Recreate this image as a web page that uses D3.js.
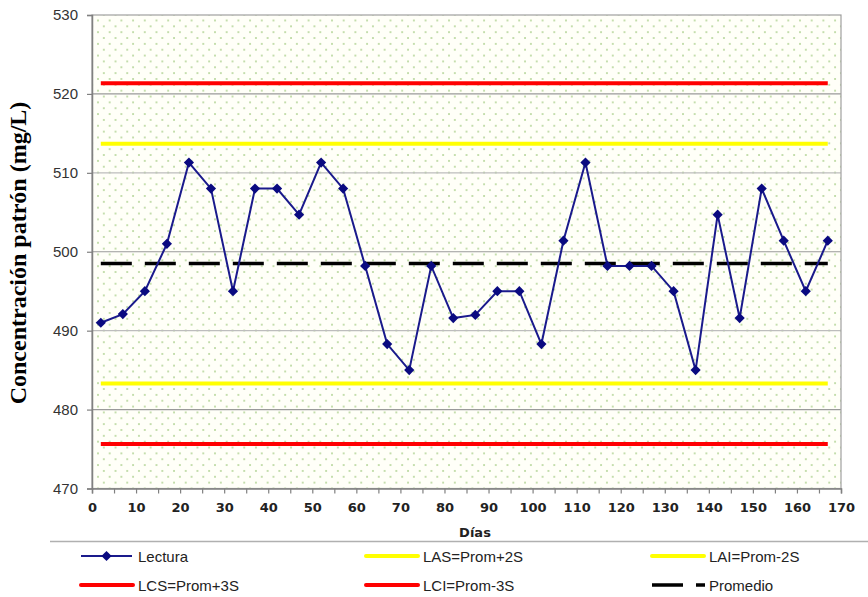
<!DOCTYPE html>
<html>
<head>
<meta charset="utf-8">
<script src="https://cdn.jsdelivr.net/npm/d3@7"></script>
<style>
  body { margin: 0; background: #fff; }
  svg { display: block; }
</style>
</head>
<body>
<svg width="868" height="597"></svg>
<script>
// días de lectura y valores leídos
const dias = [2, 7, 12, 17, 22, 27, 32, 37, 42, 47, 52, 57, 62, 67, 72, 77, 82,
    87, 92, 97, 102, 107, 112, 117, 122, 127, 132, 137, 142, 147, 152, 157, 162, 167];
const lectura = [491.0, 492.1, 495.0, 501.0, 511.3, 508.0, 495.0, 508.0, 508.0, 504.7,
    511.3, 508.0, 498.2, 488.3, 485.0, 498.2, 491.6, 492.0, 495.0, 495.0, 488.3, 501.4,
    511.3, 498.2, 498.2, 498.2, 495.0, 485.0, 504.7, 491.6, 508.0, 501.4, 495.0, 501.4];
const promedio = 498.5;
const limites = [
    { nombre: 'LCS', valor: 521.35, color: '#ff0000' },
    { nombre: 'LAS', valor: 513.7, color: '#ffff00' },
    { nombre: 'LAI', valor: 483.3, color: '#ffff00' },
    { nombre: 'LCI', valor: 475.65, color: '#ff0000' }
];
const yTicks = [470, 480, 490, 500, 510, 520, 530];
const xTicks = [0, 5, 10, 15, 20, 25, 30, 35, 40, 45, 50, 55, 60, 65, 70, 75, 80, 85,
    90, 95, 100, 105, 110, 115, 120, 125, 130, 135, 140, 145, 150, 155, 160, 165, 170];
const leyenda = [
    { texto: 'Lectura', tipo: 'lectura' },
    { texto: 'LAS=Prom+2S', tipo: 'amarillo' },
    { texto: 'LAI=Prom-2S', tipo: 'amarillo' },
    { texto: 'LCS=Prom+3S', tipo: 'rojo' },
    { texto: 'LCI=Prom-3S', tipo: 'rojo' },
    { texto: 'Promedio', tipo: 'promedio' }
];

const svg = d3.select('svg');
const x = d3.scaleLinear().domain([0, 170]).range([92, 841]);
const y = d3.scaleLinear().domain([470, 530]).range([488.5, 15]);

// fondo punteado
const pat = svg.append('defs').append('pattern')
    .attr('id', 'puntos')
    .attr('patternUnits', 'userSpaceOnUse')
    .attr('width', 11.7).attr('height', 11.7)
    .attr('x', 97).attr('y', 19.5);
pat.append('rect').attr('width', 11.7).attr('height', 11.7).attr('fill', '#fffff8');
pat.append('circle').attr('cx', 1).attr('cy', 1).attr('r', 0.9).attr('fill', '#a9cf8a');
pat.append('circle').attr('cx', 6.85).attr('cy', 6.85).attr('r', 0.9).attr('fill', '#a9cf8a');

svg.append('rect')
    .attr('x', x(0)).attr('y', y(530))
    .attr('width', x(170) - x(0)).attr('height', y(470) - y(530))
    .attr('fill', 'url(#puntos)');

// líneas de cuadrícula
svg.append('g')
    .selectAll('line')
    .data(yTicks.filter(d => d > 470 && d < 530))
    .join('line')
    .attr('x1', x(0)).attr('x2', x(170))
    .attr('y1', d => y(d)).attr('y2', d => y(d))
    .attr('stroke', d => d % 20 == 0 ? '#9a9a9a' : '#bdbdbd')
    .attr('stroke-width', 1.2);

// borde del área
svg.append('rect')
    .attr('x', x(0)).attr('y', y(530))
    .attr('width', x(170) - x(0)).attr('height', y(470) - y(530))
    .attr('fill', 'none').attr('stroke', '#a0a0a0').attr('stroke-width', 1.2);

// eje Y
const ejeY = svg.append('g')
    .attr('transform', `translate(${x(0)},0)`)
    .call(d3.axisLeft(y).tickValues(yTicks).tickSize(5).tickPadding(9));
ejeY.select('.domain').attr('stroke', '#808080').attr('stroke-width', 1.5);
ejeY.selectAll('.tick line').attr('stroke', '#808080').attr('stroke-width', 1.2);
ejeY.selectAll('text')
    .attr('font-family', 'Liberation Sans, Arial, sans-serif')
    .attr('font-size', 15).attr('fill', '#333');

// eje X
const ejeX = svg.append('g')
    .attr('transform', `translate(0,${y(470)})`)
    .call(d3.axisBottom(x).tickValues(xTicks).tickSize(5).tickPadding(9)
        .tickFormat(d => d % 10 == 0 ? d : ''));
ejeX.select('.domain').attr('stroke', '#808080').attr('stroke-width', 1.5);
ejeX.selectAll('.tick line').attr('stroke', '#808080').attr('stroke-width', 1.2);
ejeX.selectAll('text')
    .attr('font-family', 'DejaVu Sans, Verdana, sans-serif')
    .attr('font-size', 13).attr('font-weight', 'bold').attr('fill', '#222');

// límites
svg.append('g')
    .selectAll('line')
    .data(limites)
    .join('line')
    .attr('x1', x(dias[0])).attr('x2', x(dias[dias.length - 1]))
    .attr('y1', d => y(d.valor)).attr('y2', d => y(d.valor))
    .attr('stroke', d => d.color)
    .attr('stroke-width', 4);

// promedio
svg.append('line')
    .attr('x1', x(dias[0])).attr('x2', x(dias[dias.length - 1]))
    .attr('y1', y(promedio)).attr('y2', y(promedio))
    .attr('stroke', '#000')
    .attr('stroke-width', 3.5)
    .attr('stroke-dasharray', '31 13');

// lecturas
const puntos = dias.map((d, i) => [d, lectura[i]]);
svg.append('path')
    .datum(puntos)
    .attr('fill', 'none')
    .attr('stroke', '#1a1a8c')
    .attr('stroke-width', 2)
    .attr('d', d3.line().x(d => x(d[0])).y(d => y(d[1])));

const rombo = d3.symbol().type(d3.symbolSquare).size(52);
svg.append('g')
    .selectAll('path')
    .data(puntos)
    .join('path')
    .attr('d', rombo)
    .attr('transform', d => `translate(${x(d[0])},${y(d[1])}) rotate(45)`)
    .attr('fill', '#0a0a80');

// títulos de ejes
svg.append('text')
    .text('Días')
    .attr('x', 475).attr('y', 537)
    .attr('text-anchor', 'middle')
    .attr('font-family', 'DejaVu Sans, Verdana, sans-serif')
    .attr('font-size', 13).attr('font-weight', 'bold').attr('fill', '#222');

svg.append('text')
    .text('Concentración patrón (mg/L)')
    .attr('transform', 'translate(26,253) rotate(-90)')
    .attr('text-anchor', 'middle')
    .attr('font-family', 'Liberation Serif, Times New Roman, serif')
    .attr('font-size', 24).attr('font-weight', 'bold').attr('fill', '#000');

// leyenda
svg.append('line')
    .attr('x1', 50).attr('x2', 868)
    .attr('y1', 541.5).attr('y2', 541.5)
    .attr('stroke', '#b0b0b0').attr('stroke-width', 1.5);

const colX = [81, 366, 652];
const filaY = [556, 585];
const item = svg.append('g')
    .selectAll('g')
    .data(leyenda)
    .join('g')
    .attr('transform', (d, i) => `translate(${colX[i % 3]},${filaY[Math.floor(i / 3)]})`);

item.filter(d => d.tipo == 'lectura').append('line')
    .attr('x1', 0).attr('x2', 51).attr('stroke', '#1a1a8c').attr('stroke-width', 2);
item.filter(d => d.tipo == 'lectura').append('path')
    .attr('d', rombo).attr('transform', 'translate(25.5,0) rotate(45)').attr('fill', '#0a0a80');
item.filter(d => d.tipo == 'amarillo' || d.tipo == 'rojo').append('line')
    .attr('x1', 0).attr('x2', 52)
    .attr('stroke', d => d.tipo == 'rojo' ? '#ff0000' : '#ffff00')
    .attr('stroke-width', 4).attr('stroke-linecap', 'round');
item.filter(d => d.tipo == 'promedio').append('line')
    .attr('x1', 0).attr('x2', 53).attr('stroke', '#000').attr('stroke-width', 3.5)
    .attr('stroke-dasharray', '31 13');

item.append('text')
    .text(d => d.texto)
    .attr('x', 57).attr('y', 5.5)
    .attr('font-family', 'Liberation Sans, Arial, sans-serif')
    .attr('font-size', 15).attr('fill', '#222');
</script>
</body>
</html>
